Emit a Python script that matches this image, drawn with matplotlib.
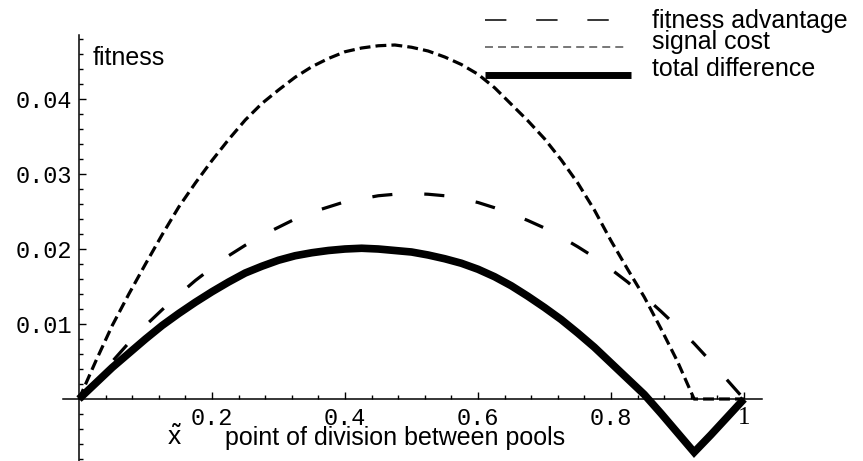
import numpy as np
import matplotlib
matplotlib.use('Agg')
import matplotlib.pyplot as plt
from matplotlib.lines import Line2D
from matplotlib.ticker import MultipleLocator, FixedLocator, FixedFormatter

# point of division between pools, x~
x_div = [0.0, 0.025, 0.05, 0.075, 0.1, 0.125, 0.15, 0.175, 0.2, 0.225,
         0.25, 0.275, 0.3, 0.325, 0.35, 0.375, 0.4, 0.425, 0.45, 0.475,
         0.5, 0.525, 0.55, 0.575, 0.6, 0.625, 0.65, 0.675, 0.7, 0.725,
         0.75, 0.775, 0.8, 0.825, 0.85, 0.875, 0.9, 0.925, 0.95, 0.975, 1.0]

fitness_advantage = [0.0, 0.0025, 0.0050, 0.0075, 0.0098, 0.0119, 0.0139, 0.0158,
                     0.0175, 0.0191, 0.0205, 0.0218, 0.0229, 0.0240, 0.0249, 0.0256,
                     0.0263, 0.0267, 0.0271, 0.0273, 0.0274, 0.0273, 0.0271, 0.0267,
                     0.0262, 0.0255, 0.0247, 0.0238, 0.0228, 0.0216, 0.0203, 0.0189,
                     0.0173, 0.0156, 0.0137, 0.0117, 0.0096, 0.0074, 0.0050, 0.0025,
                     0.0]

signal_cost = [0.0, 0.0050, 0.0098, 0.0140, 0.0180, 0.0219, 0.0256, 0.0288,
               0.0318, 0.0346, 0.0372, 0.0394, 0.0412, 0.0429, 0.0443, 0.0454,
               0.0463, 0.0468, 0.0471, 0.0472, 0.0469, 0.0464, 0.0456, 0.0446,
               0.0433, 0.0415, 0.0393, 0.0371, 0.0347, 0.0319, 0.0288, 0.0252,
               0.0211, 0.0173, 0.0136, 0.0094, 0.0050, 0.0, 0.0, 0.0,
               0.0]

total_difference = [0.0, 0.0021, 0.0042, 0.0061, 0.0080, 0.0098, 0.0114, 0.0129,
                    0.0143, 0.0156, 0.0168, 0.0177, 0.0185, 0.0191, 0.0195, 0.0198,
                    0.0200, 0.0201, 0.0200, 0.0198, 0.0196, 0.0192, 0.0187, 0.0181,
                    0.0173, 0.0163, 0.0151, 0.0137, 0.0122, 0.0106, 0.0088, 0.0069,
                    0.0048, 0.0027, 0.0006, -0.0019, -0.0045, -0.0071, -0.0048, -0.0024,
                    0.0]

legend_labels = ['fitness advantage', 'signal cost', 'total difference']
x_ticks = [0.2, 0.4, 0.6, 0.8, 1.0]
x_tick_labels = ['0.2', '0.4', '0.6', '0.8', '1']
y_ticks = [0.01, 0.02, 0.03, 0.04]
y_tick_labels = ['0.01', '0.02', '0.03', '0.04']

W, H = 863, 461
fig = plt.figure(figsize=(W / 100, H / 100), dpi=100)
plt.rcParams['mathtext.fontset'] = 'custom'
plt.rcParams['mathtext.sf'] = 'Liberation Sans'

# axes box: x-axis from px 63 to 762, y-axis from px 35 down to the bottom edge
ax = fig.add_axes([63 / W, 0, (762 - 63) / W, (461 - 35) / H])
ax.set_xlim((63 - 79) / 665, (762 - 79) / 665)
ax.set_ylim((399 - 461) / 7500, (399 - 35) / 7500)
ax.patch.set_visible(False)

ax.plot(x_div, fitness_advantage, color='black', lw=2.3, dashes=(6.3, 10))
ax.plot(x_div, signal_cost, color='black', lw=2.3, dashes=(3.4, 1.6))
ax.plot(x_div, total_difference, color='black', lw=5.5, solid_joinstyle='miter',
        solid_capstyle='butt')

# mathematica style axes through the origin
for side in ['top', 'right']:
    ax.spines[side].set_visible(False)
ax.spines['left'].set_position(('data', 0))
ax.spines['bottom'].set_position(('data', 0))
ax.spines['left'].set_linewidth(1.1)
ax.spines['bottom'].set_linewidth(1.1)

ax.xaxis.set_major_locator(FixedLocator(x_ticks))
ax.xaxis.set_major_formatter(FixedFormatter(x_tick_labels))
ax.xaxis.set_minor_locator(MultipleLocator(0.04))
ax.yaxis.set_major_locator(FixedLocator(y_ticks))
ax.yaxis.set_major_formatter(FixedFormatter(y_tick_labels))
ax.yaxis.set_minor_locator(MultipleLocator(0.002))

ax.tick_params(which='both', direction='in', width=1.0)
ax.tick_params(which='major', length=5)
ax.tick_params(which='minor', length=3)
ax.tick_params(axis='x', which='major', pad=6)
ax.tick_params(axis='y', which='major', pad=5)
for lab in ax.get_xticklabels() + ax.get_yticklabels():
    lab.set_fontfamily('Liberation Mono')
    lab.set_fontsize(17)
ax.get_xticklabels()[-1].set_fontfamily('Liberation Serif')
ax.get_xticklabels()[-1].set_fontsize(18)

# axis labels
fig.text(93 / W, 1 - 65 / H, 'fitness', fontsize=18, family='Liberation Sans',
         va='baseline', ha='left')
fig.text(167 / W, 1 - 445 / H, r'$\tilde{\mathsf{x}}$', fontsize=19,
         va='baseline', ha='left')
fig.text(225 / W, 1 - 445 / H, 'point of division between pools', fontsize=18,
         family='Liberation Sans', va='baseline', ha='left')

# legend drawn by hand, the way the original lays it out
leg_y = [20, 47, 75]
leg_text_y = [28, 49, 76]
leg_styles = [dict(color='black', lw=1.1, dashes=(14, 19.5)),
              dict(color='#777777', lw=1.4, dashes=(4.1, 2.6)),
              dict(color='black', lw=5.0, solid_capstyle='butt')]
leg_x1 = [610, 627, 631]
for yy, ty, st, x1, lab in zip(leg_y, leg_text_y, leg_styles, leg_x1, legend_labels):
    fig.add_artist(Line2D([485 / W, x1 / W], [1 - yy / H, 1 - yy / H],
                          transform=fig.transFigure, **st))
    fig.text(652 / W, 1 - ty / H, lab, fontsize=18, family='Liberation Sans',
             va='baseline', ha='left')

fig.savefig('out.png', dpi=100)
